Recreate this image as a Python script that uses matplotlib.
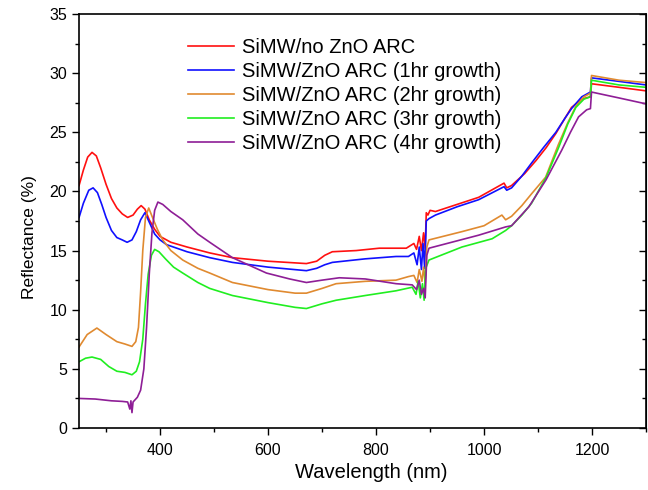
import numpy as np
import matplotlib
matplotlib.use('Agg')
import matplotlib.pyplot as plt
from matplotlib.ticker import MultipleLocator

plt.rcParams['font.family'] = ['Liberation Sans', 'DejaVu Sans']

# reflectance spectra (wavelength in nm, R in %)
wl_noarc = [250, 258, 266, 274, 282, 290, 300, 310, 320, 330, 340, 350, 358, 365,
            372, 380, 390, 400, 420, 450, 492, 534, 600, 671, 690, 705, 719, 763,
            806, 856, 870, 875, 880, 884, 888, 891, 893, 896, 900, 910, 950, 990,
            1037, 1042, 1051, 1075, 1096, 1115, 1133, 1150, 1162, 1181, 1197, 1199,
            1250, 1300]
r_noarc = [20.5, 21.8, 22.9, 23.3, 23.0, 22.0, 20.6, 19.4, 18.6, 18.1, 17.8, 18.0,
           18.5, 18.8, 18.5, 17.6, 16.8, 16.2, 15.7, 15.3, 14.8, 14.4, 14.1, 13.9,
           14.1, 14.6, 14.9, 15.0, 15.2, 15.2, 15.6, 15.1, 16.2, 15.0, 16.5, 15.2,
           18.2, 18.0, 18.4, 18.3, 18.9, 19.5, 20.7, 20.3, 20.5, 21.5, 22.6, 23.7,
           24.9, 26.2, 27.1, 27.8, 28.0, 29.1, 28.8, 28.5]

wl_1hr = [250, 258, 268, 276, 284, 292, 300, 310, 320, 330, 339, 348, 356, 364,
          372, 380, 390, 400, 412, 450, 492, 534, 600, 671, 690, 705, 719, 780,
          837, 860, 870, 876, 880, 884, 887, 890, 893, 898, 910, 950, 990, 1037,
          1042, 1051, 1070, 1088, 1110, 1133, 1150, 1162, 1181, 1197, 1199, 1250,
          1300]
r_1hr = [17.8, 19.0, 20.1, 20.3, 19.9, 18.9, 17.8, 16.7, 16.1, 15.9, 15.7, 15.9,
         16.6, 17.6, 18.2, 17.4, 16.4, 15.9, 15.5, 14.9, 14.4, 14.0, 13.6, 13.3,
         13.5, 13.8, 14.0, 14.3, 14.5, 14.5, 14.8, 13.8, 15.3, 13.4, 15.6, 13.5,
         17.5, 17.7, 18.0, 18.7, 19.3, 20.4, 20.1, 20.3, 21.3, 22.4, 23.7, 25.0,
         26.2, 27.0, 28.0, 28.4, 29.6, 29.3, 29.0]

wl_2hr = [250, 265, 283, 300, 320, 335, 348, 355, 360, 364, 368, 373, 379, 386,
          395, 405, 420, 442, 470, 492, 534, 600, 650, 671, 700, 726, 780, 837,
          860, 870, 876, 880, 885, 888, 891, 894, 898, 959, 1000, 1033, 1040, 1051,
          1070, 1088, 1114, 1138, 1155, 1170, 1185, 1197, 1199, 1250, 1300]
r_2hr = [6.85, 7.9, 8.45, 7.9, 7.3, 7.1, 6.9, 7.3, 8.5, 11.5, 15.0, 17.8, 18.6,
         17.8, 16.8, 15.9, 15.0, 14.2, 13.5, 13.1, 12.3, 11.7, 11.4, 11.4, 11.8,
         12.2, 12.4, 12.5, 12.8, 12.9, 12.3, 13.4, 12.4, 13.6, 12.2, 15.3, 15.9,
         16.6, 17.1, 18.0, 17.6, 17.9, 18.8, 19.8, 21.2, 24.0, 25.8, 27.2, 28.0,
         28.3, 29.8, 29.4, 29.2]

wl_3hr = [250, 262, 274, 290, 305, 320, 335, 348, 356, 362, 368, 373, 378, 384,
          390, 398, 410, 425, 442, 470, 492, 534, 600, 650, 671, 700, 726, 780,
          837, 867, 874, 878, 882, 886, 889, 892, 898, 959, 1015, 1040, 1051, 1070,
          1088, 1115, 1138, 1155, 1170, 1185, 1197, 1199, 1250, 1300]
r_3hr = [5.6, 5.9, 6.0, 5.8, 5.2, 4.8, 4.7, 4.5, 4.8, 5.6, 7.5, 10.5, 13.0, 14.6,
         15.1, 14.9, 14.3, 13.6, 13.1, 12.3, 11.8, 11.2, 10.6, 10.2, 10.1, 10.5,
         10.8, 11.2, 11.6, 11.9, 11.3, 12.4, 11.0, 12.2, 10.8, 13.5, 14.2, 15.3,
         16.0, 16.7, 17.1, 18.0, 19.0, 21.2, 23.7, 25.7, 27.1, 27.8, 28.0, 29.4,
         29.0, 28.8]

wl_4hr = [250, 280, 310, 330, 340, 344, 346, 348, 350, 358, 364, 370, 375, 380,
          385, 390, 396, 405, 420, 442, 470, 492, 534, 597, 640, 671, 700, 732,
          780, 837, 867, 875, 880, 884, 888, 891, 894, 898, 990, 1040, 1051, 1083,
          1115, 1144, 1160, 1175, 1190, 1197, 1199, 1250, 1300]
r_4hr = [2.5, 2.45, 2.3, 2.25, 2.2, 1.6, 2.3, 1.3, 2.2, 2.6, 3.2, 5.0, 8.5, 13.0,
         16.5, 18.4, 19.1, 18.9, 18.3, 17.6, 16.4, 15.7, 14.4, 13.1, 12.6, 12.3,
         12.5, 12.7, 12.6, 12.2, 12.1, 11.7, 12.5, 11.3, 11.8, 11.0, 14.6, 15.2,
         16.3, 17.0, 17.1, 18.7, 21.0, 23.5, 25.0, 26.3, 26.9, 27.0, 28.4, 27.9,
         27.4]

labels = ['SiMW/no ZnO ARC',
          'SiMW/ZnO ARC (1hr growth)',
          'SiMW/ZnO ARC (2hr growth)',
          'SiMW/ZnO ARC (3hr growth)',
          'SiMW/ZnO ARC (4hr growth)']
colors = ['#ff1010', '#1010ff', '#e08a30', '#20ee20', '#8e1e96']


def main():
  fig = plt.figure(figsize=(6.48, 4.90), dpi=100)
  ax = fig.add_axes([0.122, 0.1265, 0.875, 0.845])

  series = [(wl_noarc, r_noarc), (wl_1hr, r_1hr), (wl_2hr, r_2hr),
            (wl_3hr, r_3hr), (wl_4hr, r_4hr)]
  for (wl, r), lab, col in zip(series, labels, colors):
    ax.plot(wl, r, color=col, lw=1.2, label=lab)

  ax.set_xlim(250, 1300)
  ax.set_ylim(0, 35)
  ax.xaxis.set_major_locator(MultipleLocator(200))
  ax.xaxis.set_minor_locator(MultipleLocator(100))
  ax.yaxis.set_major_locator(MultipleLocator(5))
  ax.yaxis.set_minor_locator(MultipleLocator(2.5))
  ax.tick_params(which='both', direction='out', labelsize=11.5, width=1)
  ax.tick_params(which='major', length=5)
  ax.tick_params(which='minor', length=3)
  ax.tick_params(axis='x', which='major', pad=6)
  ax.tick_params(which='both', right=False, top=False)
  for sp in ax.spines.values():
    sp.set_linewidth(1.2)

  # right side ticks point inward, without labels
  rax = ax.secondary_yaxis('right')
  rax.yaxis.set_major_locator(MultipleLocator(5))
  rax.yaxis.set_minor_locator(MultipleLocator(2.5))
  rax.tick_params(which='both', direction='in', labelright=False, width=1)
  rax.tick_params(which='major', length=5)
  rax.tick_params(which='minor', length=3)

  ax.set_xlabel('Wavelength (nm)', fontsize=14.5, labelpad=1)
  ax.set_ylabel('Reflectance (%)', fontsize=12.5)
  ax.xaxis.set_label_coords(0.515, -0.085)
  ax.yaxis.set_label_coords(-0.075, 0.46)

  ax.legend(loc='upper left', bbox_to_anchor=(0.16, 0.985), frameon=False,
            fontsize=14.5, handlelength=2.3, handletextpad=0.4, labelspacing=0.25)

  fig.savefig('out.png', dpi=100)


if __name__ == '__main__':
  main()
